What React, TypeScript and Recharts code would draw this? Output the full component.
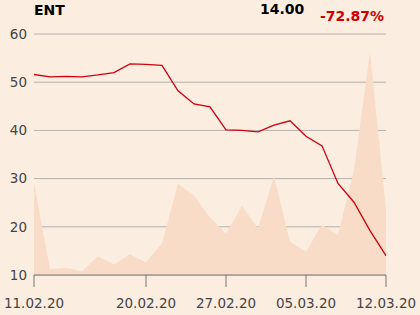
import { ComposedChart, Area, Line, XAxis, YAxis, CartesianGrid } from 'recharts'

const dates = [
  '11.02.20', '12.02.20', '13.02.20', '14.02.20', '17.02.20', '18.02.20', '19.02.20', '20.02.20',
  '21.02.20', '24.02.20', '25.02.20', '26.02.20', '27.02.20', '28.02.20', '02.03.20', '03.03.20',
  '04.03.20', '05.03.20', '06.03.20', '09.03.20', '10.03.20', '11.03.20', '12.03.20',
]
const prices = [
  51.6, 51.1, 51.2, 51.1, 51.5, 52.0, 53.8, 53.7, 53.5, 48.2, 45.5, 44.9,
  40.1, 40.0, 39.7, 41.1, 42.0, 38.8, 36.8, 29.0, 25.1, 19.2, 14.0,
]
const volumes = [
  29.0, 11.2, 11.5, 10.8, 13.9, 12.2, 14.3, 12.6, 16.6, 28.9, 26.5, 21.9,
  18.6, 24.3, 19.7, 30.5, 16.9, 14.8, 20.4, 18.3, 31.8, 56.2, 23.5,
]
const yTicks = [10, 20, 30, 40, 50, 60]
const xTicks = [0, 7, 12, 17, 22]

const data = dates.map((d, i) => ({ i, date: d, price: prices[i], volume: volumes[i] }))

const font = '"DejaVu Sans", sans-serif'

export default function App() {
  return (
    <div
      style={{
        position: 'fixed',
        left: 0,
        top: 0,
        width: 420,
        height: 315,
        background: '#fcede1',
        fontFamily: font,
      }}
    >
      <div style={{ position: 'absolute', left: 34, top: 2, fontSize: 14, fontWeight: 'bold', color: '#000' }}>ENT</div>
      <div style={{ position: 'absolute', left: 260, top: 1, fontSize: 14, fontWeight: 'bold', color: '#000' }}>14.00</div>
      <div style={{ position: 'absolute', left: 320, top: 8, fontSize: 14, fontWeight: 'bold', color: '#cc0000' }}>-72.87%</div>
      <ComposedChart width={420} height={315} data={data} margin={{ top: 34, right: 34, bottom: 0, left: 0 }}>
        <CartesianGrid vertical={false} stroke="#b4b0ac" />
        <XAxis
          dataKey="i"
          type="number"
          domain={[0, 22]}
          ticks={xTicks}
          tickFormatter={(v: number) => dates[v]}
          height={40}
          stroke="#777"
          tickSize={12}
          tickMargin={11}
          tick={{ fill: '#444', fontSize: 13.5, fontFamily: font }}
          interval={0}
        />
        <YAxis
          type="number"
          domain={[10, 60]}
          ticks={yTicks}
          width={34}
          axisLine={false}
          tickLine={false}
          tickSize={0}
          tickMargin={7}
          tick={{ fill: '#444', fontSize: 13.5, fontFamily: font }}
        />
        <Area
          dataKey="volume"
          type="linear"
          stroke="none"
          fill="#f8dcc7"
          fillOpacity={1}
          isAnimationActive={false}
        />
        <Line
          dataKey="price"
          type="linear"
          stroke="#d0000f"
          strokeWidth={1.3}
          dot={false}
          isAnimationActive={false}
        />
      </ComposedChart>
    </div>
  )
}
